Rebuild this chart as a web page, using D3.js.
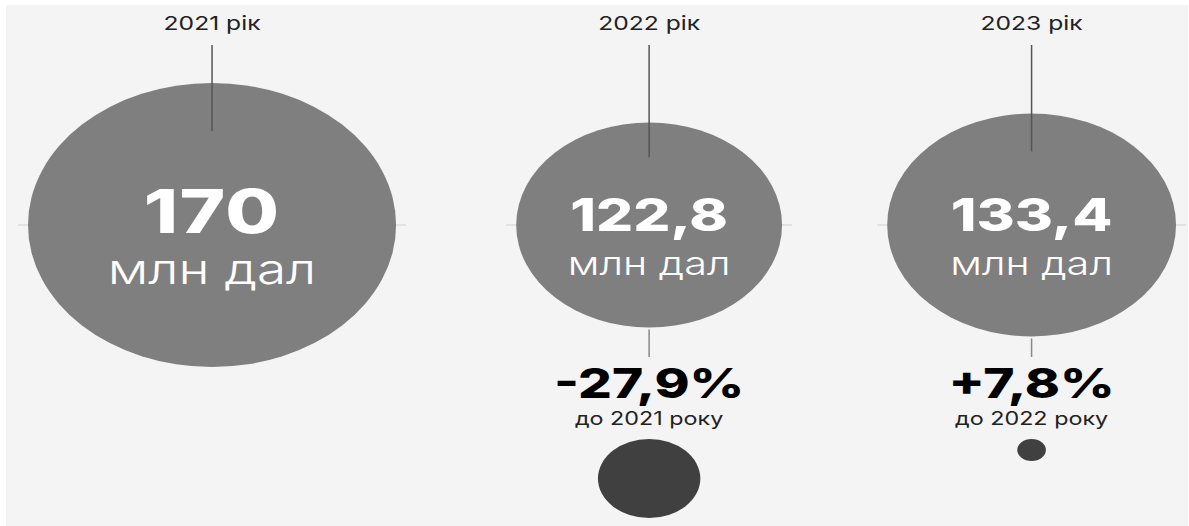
<!DOCTYPE html>
<html>
<head>
<meta charset="utf-8">
<script src="https://cdn.jsdelivr.net/npm/d3@7"></script>
<style>
  html, body { margin: 0; padding: 0; background: #ffffff; }
  svg { display: block; }
  text { font-family: Inter, "Open Sans", "DejaVu Sans", sans-serif; }
</style>
</head>
<body>
<svg id="chart" width="1189" height="526"></svg>
<script>
// Wine production, million decalitres
const years = ["2021", "2022", "2023"];
const volumes = [170, 122.8, 133.4];
// Year-over-year change, % (none for the first year)
const changes = [null, -27.9, 7.8];
const changeBase = [null, "2021", "2022"];
const unitLabel = "млн дал";

const W = 1189, H = 526;
const sx = 1.296;          // horizontal stretch of the whole layout
const cy = 225;            // common centre line
const left = 28, right = 1176;

const svg = d3.select("#chart");
const loc = d3.formatLocale({ decimal: ",", thousands: " ", grouping: [3], currency: ["", ""] });
const fmtNum = v => Number.isInteger(v) ? loc.format("d")(v) : loc.format(".1f")(v);
const fmtPct = v => (v > 0 ? "+" : "-") + loc.format(".1f")(Math.abs(v)) + "%";

// Radius grows linearly with volume
const r = d3.scaleLinear().domain([0, d3.max(volumes)]).range([0, 142]);
// Change dots: radius grows linearly with |change|
const rc = d3.scaleLinear().domain([0, d3.max(changes, c => c == null ? 0 : Math.abs(c))]).range([0, 39.5]);

// Lay the ellipses out left to right; the free space between neighbours
// is shared in proportion to the sum of their radii
const radii = volumes.map(v => r(v));
const free = right - left - d3.sum(radii) * 2 * sx;
const pairW = d3.range(radii.length - 1).map(i => radii[i] + radii[i + 1]);
const pairSum = d3.sum(pairW);
const cxs = [];
let acc = left;
radii.forEach((rr, i) => {
  acc += rr * sx;
  cxs.push(acc);
  acc += rr * sx;
  if (i < pairW.length) acc += free * pairW[i] / pairSum;
});

// Panel background
svg.append("rect").attr("x", 6).attr("y", 5).attr("width", W - 7).attr("height", H - 5).attr("fill", "#f4f4f4");

const vmax = d3.max(volumes);
const data = years.map((y, i) => ({ year: y, v: volumes[i], ch: changes[i], base: changeBase[i], cx: cxs[i], rr: radii[i] }));

const g = svg.selectAll("g.col").data(data).join("g").attr("class", "col");

// Faint centre guide just past each ellipse
g.append("line")
  .attr("x1", d => d.cx - d.rr * sx - 10).attr("x2", d => d.cx + d.rr * sx + 10)
  .attr("y1", cy).attr("y2", cy)
  .attr("stroke", "#e2e2e2").attr("stroke-width", 2);

g.append("ellipse")
  .attr("cx", d => d.cx).attr("cy", cy)
  .attr("rx", d => d.rr * sx).attr("ry", d => d.rr)
  .attr("fill", "#7f7f7f");

// Leader from year label into the ellipse
g.append("line")
  .attr("x1", d => d.cx).attr("x2", d => d.cx)
  .attr("y1", 45).attr("y2", d => cy - d.rr * 0.66)
  .attr("stroke", "#555").attr("stroke-width", 1.5);

const stretched = (sel, y) => sel.attr("transform", d => `translate(${d.cx},${typeof y === "function" ? y(d) : y}) scale(${sx},1)`).attr("text-anchor", "middle");

g.append("text").call(stretched, 30)
  .attr("font-size", 19).attr("fill", "#222").attr("font-weight", 400)
  .text(d => d.year + " рік");

g.append("text").call(stretched, d => d.v === vmax ? 233 : 231)
  .attr("font-size", d => d.v === vmax ? 60 : 45)
  .attr("font-weight", 800).attr("fill", "#fff")
  .attr("letter-spacing", d => d.v === vmax ? 1 : 0)
  .text(d => fmtNum(d.v));

g.append("text").call(stretched, d => d.v === vmax ? 284 : 275)
  .attr("font-size", d => d.v === vmax ? 41 : 32)
  .attr("font-weight", 300).attr("fill", "#fff")
  .text(unitLabel);

// Change annotations below
const gc = g.filter(d => d.ch != null);

gc.append("line")
  .attr("x1", d => d.cx).attr("x2", d => d.cx)
  .attr("y1", d => cy + d.rr + 2).attr("y2", 357)
  .attr("stroke", "#888").attr("stroke-width", 1.5);

gc.append("text").call(stretched, 398)
  .attr("font-size", 41).attr("font-weight", 800).attr("fill", "#000")
  .text(d => fmtPct(d.ch));

gc.append("text").call(stretched, 425)
  .attr("font-size", 18).attr("font-weight", 400).attr("fill", "#222")
  .text(d => "до " + d.base + " року");

gc.append("ellipse")
  .attr("cx", d => d.cx).attr("cy", d => 439 + rc(Math.abs(d.ch)))
  .attr("rx", d => rc(Math.abs(d.ch)) * sx).attr("ry", d => rc(Math.abs(d.ch)))
  .attr("fill", "#404040");
</script>
</body>
</html>
